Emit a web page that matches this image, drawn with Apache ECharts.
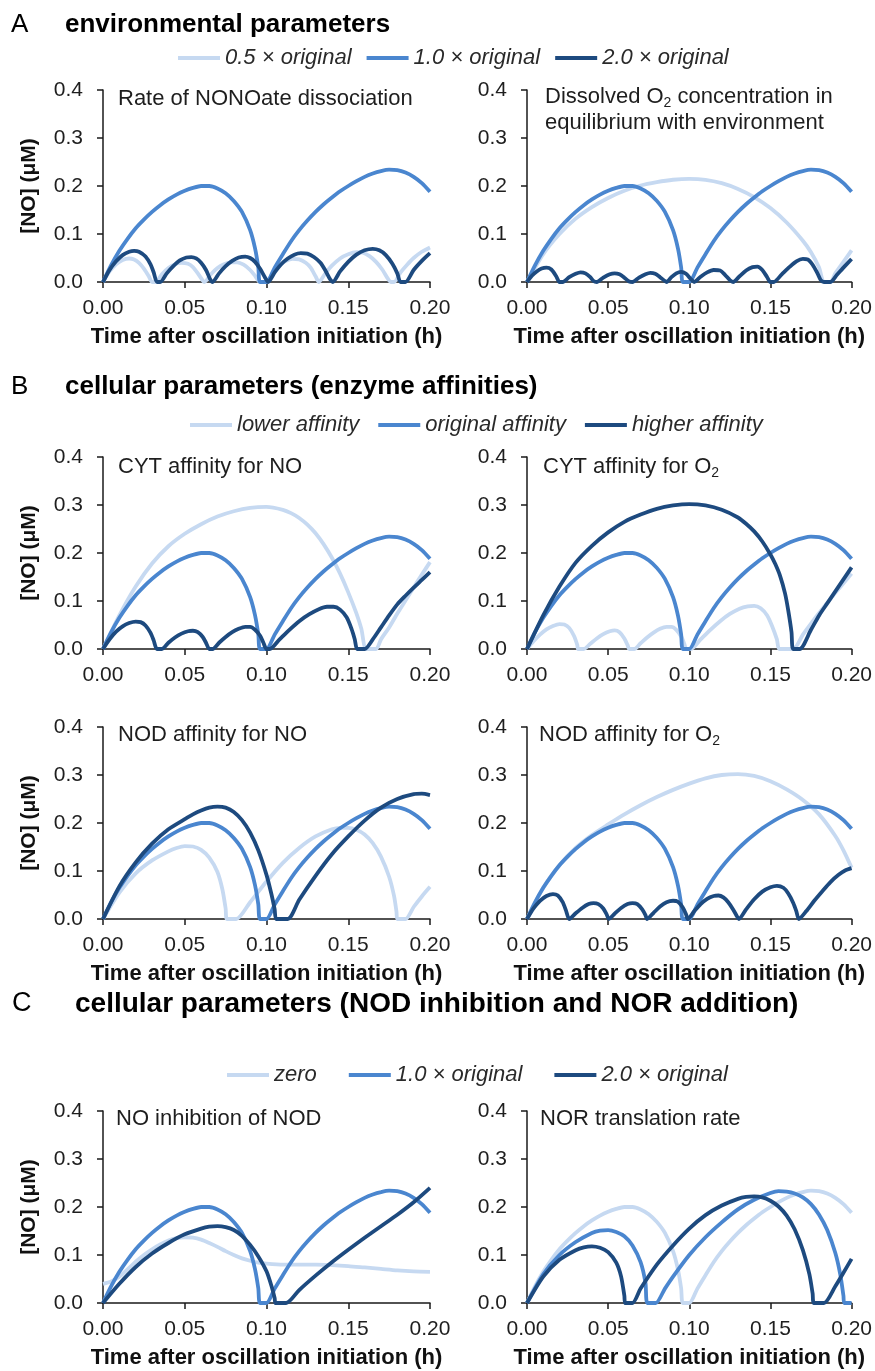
<!DOCTYPE html>
<html><head><meta charset="utf-8">
<script src="https://cdn.jsdelivr.net/npm/echarts@6/dist/echarts.min.js"></script>
<style>html,body{margin:0;padding:0;background:#fff}#c{width:875px;height:1371px}</style>
</head><body><div id="c"></div>
<script>
// ---------- tick values ----------
const xTicks = [0, 0.05, 0.10, 0.15, 0.20];
const yTicks = [0, 0.1, 0.2, 0.3, 0.4];

// ---------- legend labels ----------
const legendA = ['0.5 × original', '1.0 × original', '2.0 × original'];
const legendB = ['lower affinity', 'original affinity', 'higher affinity'];
const legendC = ['zero', '1.0 × original', '2.0 × original'];

// ---------- panel titles ----------
const panelTitles = [
  'Rate of NONOate dissociation',
  'Dissolved O|2| concentration in\nequilibrium with environment',
  'CYT affinity for NO',
  'CYT affinity for O|2|',
  'NOD affinity for NO',
  'NOD affinity for O|2|',
  'NO inhibition of NOD',
  'NOR translation rate'
];

// ---------- data: [time (h), NO (uM)] ----------
// original model (same in most panels)
const original = [[0,0],[0.005,0.035],[0.01,0.065],[0.015,0.09],[0.02,0.112],[0.025,0.13],[0.03,0.146],[0.035,0.16],[0.04,0.172],[0.045,0.182],[0.05,0.19],[0.055,0.196],[0.06,0.2],[0.065,0.2],[0.07,0.195],[0.075,0.185],[0.08,0.169],[0.085,0.146],[0.09,0.108],[0.093,0.07],[0.095,0.03],[0.096,0],[0.1,0],[0.105,0.03],[0.11,0.058],[0.115,0.085],[0.12,0.108],[0.125,0.128],[0.13,0.146],[0.135,0.162],[0.14,0.176],[0.145,0.189],[0.15,0.2],[0.155,0.21],[0.16,0.219],[0.165,0.226],[0.17,0.231],[0.175,0.234],[0.18,0.233],[0.185,0.228],[0.19,0.219],[0.195,0.206],[0.2,0.188]];

// A: NONOate dissociation
const nonoateLow = [[0,0],[0.004,0.022],[0.008,0.037],[0.012,0.046],[0.016,0.049],[0.019,0.047],[0.022,0.04],[0.025,0.028],[0.028,0.012],[0.03,0],[0.032,0],[0.036,0.016],[0.04,0.029],[0.044,0.037],[0.048,0.04],[0.052,0.038],[0.055,0.031],[0.058,0.018],[0.061,0.003],[0.062,0],[0.066,0.016],[0.07,0.029],[0.074,0.037],[0.078,0.041],[0.082,0.041],[0.086,0.036],[0.09,0.025],[0.093,0.013],[0.096,0],[0.1,0],[0.104,0.02],[0.108,0.035],[0.112,0.044],[0.116,0.048],[0.12,0.047],[0.124,0.04],[0.127,0.03],[0.13,0.012],[0.132,0],[0.136,0.018],[0.14,0.034],[0.145,0.049],[0.15,0.058],[0.155,0.062],[0.159,0.061],[0.163,0.054],[0.167,0.042],[0.171,0.025],[0.174,0.008],[0.176,0],[0.178,0],[0.182,0.02],[0.186,0.036],[0.19,0.05],[0.195,0.063],[0.2,0.072]];
const nonoateHigh = [[0,0],[0.004,0.025],[0.008,0.043],[0.012,0.056],[0.016,0.063],[0.019,0.065],[0.022,0.063],[0.026,0.053],[0.029,0.037],[0.031,0.02],[0.033,0],[0.035,0],[0.039,0.018],[0.043,0.033],[0.047,0.045],[0.051,0.051],[0.054,0.052],[0.057,0.049],[0.06,0.04],[0.063,0.025],[0.0655,0.006],[0.067,0],[0.071,0.018],[0.075,0.033],[0.079,0.044],[0.083,0.051],[0.087,0.053],[0.09,0.05],[0.093,0.042],[0.096,0.028],[0.099,0.01],[0.101,0],[0.105,0.02],[0.109,0.037],[0.113,0.049],[0.117,0.057],[0.121,0.06],[0.125,0.059],[0.129,0.052],[0.133,0.04],[0.136,0.024],[0.139,0.005],[0.1405,0],[0.145,0.022],[0.15,0.042],[0.155,0.057],[0.16,0.066],[0.165,0.069],[0.169,0.066],[0.173,0.056],[0.177,0.038],[0.18,0.018],[0.182,0],[0.185,0],[0.19,0.025],[0.195,0.044],[0.2,0.06]];

// A: dissolved O2
const oxygenLow = [[0,0],[0.01,0.058],[0.02,0.1],[0.03,0.132],[0.04,0.156],[0.05,0.175],[0.06,0.19],[0.07,0.201],[0.08,0.208],[0.09,0.213],[0.1,0.215],[0.11,0.213],[0.12,0.206],[0.13,0.194],[0.14,0.177],[0.15,0.154],[0.16,0.124],[0.17,0.086],[0.175,0.062],[0.18,0.03],[0.183,0],[0.187,0],[0.19,0.018],[0.195,0.042],[0.2,0.066]];
const oxygenHigh = [[0,0],[0.003,0.013],[0.006,0.022],[0.009,0.028],[0.012,0.03],[0.015,0.026],[0.018,0.012],[0.02,0],[0.022,0],[0.026,0.01],[0.03,0.017],[0.033,0.02],[0.036,0.018],[0.039,0.01],[0.041,0.002],[0.043,0],[0.047,0.009],[0.051,0.016],[0.054,0.018],[0.057,0.016],[0.06,0.009],[0.063,0.001],[0.065,0],[0.069,0.009],[0.073,0.016],[0.076,0.019],[0.079,0.017],[0.082,0.01],[0.085,0.002],[0.086,0],[0.089,0.01],[0.092,0.018],[0.095,0.021],[0.098,0.017],[0.101,0.006],[0.103,0],[0.107,0.011],[0.111,0.02],[0.115,0.025],[0.119,0.024],[0.122,0.015],[0.125,0.004],[0.127,0],[0.131,0.012],[0.135,0.024],[0.139,0.031],[0.142,0.032],[0.145,0.025],[0.148,0.01],[0.15,0],[0.152,0],[0.157,0.016],[0.162,0.032],[0.166,0.043],[0.17,0.048],[0.173,0.047],[0.176,0.036],[0.179,0.018],[0.181,0.004],[0.183,0],[0.187,0],[0.191,0.015],[0.195,0.03],[0.2,0.048]];

// B: CYT affinity for NO
const cytNoLower = [[0,0],[0.01,0.07],[0.02,0.13],[0.03,0.178],[0.04,0.214],[0.05,0.24],[0.06,0.26],[0.07,0.276],[0.08,0.287],[0.09,0.294],[0.1,0.296],[0.11,0.29],[0.115,0.283],[0.12,0.273],[0.125,0.259],[0.13,0.241],[0.135,0.218],[0.14,0.19],[0.145,0.157],[0.15,0.118],[0.155,0.074],[0.158,0.042],[0.161,0],[0.167,0],[0.17,0.02],[0.175,0.045],[0.18,0.074],[0.185,0.101],[0.19,0.128],[0.195,0.155],[0.2,0.181]];
const cytNoHigher = [[0,0],[0.004,0.02],[0.008,0.036],[0.012,0.047],[0.016,0.054],[0.02,0.057],[0.023,0.056],[0.026,0.049],[0.029,0.034],[0.031,0.018],[0.033,0],[0.036,0],[0.04,0.013],[0.044,0.024],[0.048,0.032],[0.052,0.037],[0.055,0.038],[0.058,0.035],[0.061,0.025],[0.063,0.013],[0.065,0],[0.067,0],[0.071,0.013],[0.075,0.025],[0.079,0.035],[0.083,0.042],[0.087,0.046],[0.09,0.046],[0.093,0.04],[0.096,0.028],[0.098,0.014],[0.1,0],[0.102,0],[0.108,0.02],[0.114,0.04],[0.12,0.058],[0.126,0.072],[0.132,0.083],[0.137,0.088],[0.141,0.088],[0.145,0.082],[0.149,0.066],[0.152,0.042],[0.154,0.02],[0.1555,0],[0.16,0],[0.165,0.02],[0.17,0.045],[0.175,0.07],[0.18,0.093],[0.185,0.111],[0.19,0.128],[0.195,0.144],[0.2,0.16]];

// B: CYT affinity for O2
const cytO2Lower = [[0,0],[0.004,0.016],[0.008,0.03],[0.012,0.041],[0.016,0.048],[0.02,0.052],[0.023,0.051],[0.026,0.044],[0.029,0.027],[0.031,0.008],[0.0315,0],[0.035,0],[0.039,0.011],[0.043,0.022],[0.047,0.031],[0.051,0.037],[0.054,0.039],[0.057,0.035],[0.06,0.022],[0.062,0.008],[0.063,0],[0.066,0],[0.07,0.012],[0.074,0.024],[0.078,0.034],[0.082,0.042],[0.086,0.046],[0.089,0.046],[0.092,0.04],[0.095,0.026],[0.097,0.01],[0.098,0],[0.101,0],[0.107,0.02],[0.113,0.04],[0.119,0.058],[0.125,0.073],[0.131,0.084],[0.136,0.089],[0.14,0.09],[0.144,0.085],[0.148,0.07],[0.151,0.048],[0.154,0.02],[0.1555,0],[0.164,0],[0.17,0.03],[0.175,0.053],[0.18,0.075],[0.185,0.096],[0.19,0.117],[0.195,0.137],[0.2,0.157]];
const cytO2Higher = [[0,0],[0.01,0.07],[0.02,0.13],[0.03,0.18],[0.04,0.215],[0.05,0.243],[0.06,0.265],[0.07,0.28],[0.08,0.292],[0.09,0.299],[0.1,0.302],[0.11,0.299],[0.12,0.29],[0.13,0.274],[0.135,0.261],[0.14,0.245],[0.145,0.224],[0.15,0.197],[0.153,0.177],[0.156,0.152],[0.159,0.116],[0.161,0.08],[0.163,0.035],[0.164,0],[0.168,0],[0.175,0.04],[0.18,0.07],[0.185,0.095],[0.19,0.12],[0.195,0.145],[0.2,0.17]];

// B: NOD affinity for NO
const nodNoLower = [[0,0],[0.01,0.055],[0.02,0.095],[0.03,0.122],[0.04,0.141],[0.045,0.148],[0.05,0.152],[0.055,0.151],[0.06,0.144],[0.065,0.128],[0.07,0.098],[0.073,0.062],[0.075,0.022],[0.0758,0],[0.0815,0],[0.09,0.035],[0.1,0.078],[0.11,0.117],[0.12,0.148],[0.13,0.172],[0.14,0.187],[0.145,0.19],[0.15,0.19],[0.155,0.186],[0.16,0.176],[0.165,0.158],[0.17,0.13],[0.175,0.088],[0.178,0.048],[0.1795,0.015],[0.18,0],[0.185,0],[0.19,0.025],[0.195,0.047],[0.2,0.067]];
const nodNoHigher = [[0,0],[0.01,0.068],[0.02,0.118],[0.03,0.157],[0.04,0.187],[0.05,0.208],[0.055,0.218],[0.06,0.226],[0.065,0.232],[0.07,0.234],[0.075,0.232],[0.08,0.223],[0.085,0.206],[0.09,0.18],[0.095,0.143],[0.1,0.092],[0.103,0.052],[0.105,0.02],[0.106,0],[0.113,0],[0.12,0.04],[0.13,0.09],[0.14,0.135],[0.15,0.172],[0.16,0.205],[0.17,0.232],[0.18,0.25],[0.19,0.26],[0.195,0.261],[0.2,0.258]];

// B: NOD affinity for O2
const nodO2Lower = [[0,0],[0.01,0.065],[0.02,0.112],[0.03,0.148],[0.04,0.175],[0.05,0.197],[0.06,0.218],[0.07,0.237],[0.08,0.254],[0.09,0.269],[0.1,0.282],[0.11,0.293],[0.12,0.3],[0.13,0.302],[0.14,0.298],[0.15,0.287],[0.16,0.27],[0.17,0.248],[0.18,0.218],[0.19,0.173],[0.195,0.143],[0.2,0.107]];
const nodO2Higher = [[0,0],[0.004,0.022],[0.008,0.038],[0.012,0.048],[0.016,0.052],[0.019,0.049],[0.022,0.035],[0.024,0.018],[0.026,0],[0.03,0.012],[0.034,0.023],[0.038,0.031],[0.041,0.033],[0.044,0.031],[0.047,0.022],[0.049,0.01],[0.0505,0],[0.054,0.011],[0.058,0.023],[0.062,0.031],[0.065,0.033],[0.068,0.031],[0.071,0.02],[0.073,0.008],[0.074,0],[0.078,0.013],[0.082,0.026],[0.086,0.035],[0.09,0.038],[0.093,0.036],[0.096,0.024],[0.098,0.01],[0.099,0],[0.103,0.016],[0.107,0.031],[0.111,0.042],[0.115,0.048],[0.118,0.049],[0.121,0.045],[0.124,0.035],[0.127,0.02],[0.1295,0.005],[0.1305,0],[0.135,0.02],[0.14,0.041],[0.145,0.057],[0.15,0.066],[0.154,0.069],[0.158,0.065],[0.161,0.053],[0.164,0.034],[0.166,0.016],[0.1675,0],[0.172,0.016],[0.177,0.038],[0.182,0.058],[0.187,0.077],[0.192,0.092],[0.196,0.101],[0.2,0.106]];

// C: NO inhibition of NOD
const inhibZero = [[0,0.04],[0.005,0.045],[0.01,0.055],[0.015,0.07],[0.02,0.086],[0.025,0.1],[0.03,0.112],[0.035,0.122],[0.04,0.13],[0.045,0.135],[0.05,0.137],[0.055,0.136],[0.06,0.132],[0.065,0.125],[0.07,0.117],[0.075,0.108],[0.08,0.1],[0.085,0.093],[0.09,0.088],[0.095,0.084],[0.1,0.082],[0.11,0.08],[0.12,0.08],[0.13,0.08],[0.14,0.079],[0.15,0.077],[0.16,0.074],[0.17,0.071],[0.18,0.068],[0.19,0.066],[0.2,0.065]];
const inhibDouble = [[0,0],[0.01,0.04],[0.02,0.075],[0.03,0.103],[0.04,0.125],[0.05,0.143],[0.06,0.155],[0.065,0.159],[0.07,0.16],[0.075,0.158],[0.08,0.152],[0.085,0.14],[0.09,0.121],[0.095,0.097],[0.1,0.066],[0.103,0.036],[0.105,0.01],[0.1055,0],[0.112,0],[0.12,0.027],[0.13,0.057],[0.14,0.085],[0.15,0.111],[0.16,0.136],[0.17,0.16],[0.18,0.184],[0.19,0.21],[0.2,0.24]];

// C: NOR translation rate
const norSingle = [[0,0],[0.01,0.06],[0.02,0.1],[0.03,0.127],[0.04,0.146],[0.045,0.151],[0.05,0.152],[0.055,0.148],[0.06,0.139],[0.065,0.12],[0.07,0.085],[0.073,0.042],[0.0742,0],[0.0793,0],[0.085,0.03],[0.09,0.055],[0.1,0.1],[0.11,0.137],[0.12,0.168],[0.13,0.195],[0.14,0.215],[0.15,0.229],[0.155,0.233],[0.16,0.232],[0.165,0.228],[0.17,0.22],[0.175,0.206],[0.18,0.184],[0.185,0.152],[0.19,0.104],[0.193,0.06],[0.195,0.015],[0.1955,0],[0.2,0]];
const norDouble = [[0,0],[0.01,0.055],[0.02,0.09],[0.03,0.11],[0.035,0.116],[0.04,0.118],[0.045,0.115],[0.05,0.106],[0.055,0.084],[0.058,0.055],[0.06,0.015],[0.0605,0],[0.065,0],[0.07,0.03],[0.08,0.08],[0.09,0.12],[0.1,0.155],[0.11,0.183],[0.12,0.203],[0.13,0.217],[0.135,0.221],[0.14,0.222],[0.145,0.22],[0.15,0.213],[0.155,0.201],[0.16,0.182],[0.165,0.153],[0.17,0.11],[0.174,0.06],[0.176,0.02],[0.1768,0],[0.183,0],[0.19,0.035],[0.195,0.063],[0.2,0.092]];

// ---------- panel → series ----------
const panels = [
  {names: legendA, data: [nonoateLow, original, nonoateHigh]},
  {names: legendA, data: [oxygenLow, original, oxygenHigh]},
  {names: legendB, data: [cytNoLower, original, cytNoHigher]},
  {names: legendB, data: [cytO2Lower, original, cytO2Higher]},
  {names: legendB, data: [nodNoLower, original, nodNoHigher]},
  {names: legendB, data: [nodO2Lower, original, nodO2Higher]},
  {names: legendC, data: [inhibZero, original, inhibDouble]},
  {names: legendC, data: [original, norSingle, norDouble]}
];

const FONT = '"Liberation Sans", Arial, sans-serif';
const COLORS = ['#c6d9f1', '#4a86cf', '#1d4a7f'];
const TXT = '#1e1e1e';

const layout = [
  {l:103, t:90, w:327}, {l:527, t:90, w:326},
  {l:103, t:457, w:327}, {l:527, t:457, w:326},
  {l:103, t:727, w:327}, {l:527, t:727, w:326},
  {l:103, t:1111, w:327}, {l:527, t:1111, w:326}
];
const showXName = [true, true, false, false, true, true, true, true];

const axisLineStyle = {color:'#1a1a1a', width:1.5};

const grid = layout.map(g => ({left:g.l, top:g.t, width:g.w, height:192}));
const xAxis = layout.map((g, i) => ({
  type:'value', gridIndex:i, min:xTicks[0], max:xTicks[xTicks.length-1], interval:xTicks[1]-xTicks[0],
  axisLine:{show:true, onZero:false, lineStyle:axisLineStyle},
  axisTick:{show:true, length:6, lineStyle:axisLineStyle},
  splitLine:{show:false},
  axisLabel:{formatter:v => v.toFixed(2), fontSize:21, color:TXT, margin:16, fontFamily:FONT},
  name: showXName[i] ? 'Time after oscillation initiation (h)' : '',
  nameLocation:'middle', nameGap:44,
  nameTextStyle:{fontSize:22, fontWeight:'bold', color:'#111', fontFamily:FONT}
}));
const yAxis = layout.map((g, i) => ({
  type:'value', gridIndex:i, min:yTicks[0], max:yTicks[yTicks.length-1], interval:yTicks[1]-yTicks[0],
  axisLine:{show:true, onZero:false, lineStyle:axisLineStyle},
  axisTick:{show:true, length:6, lineStyle:axisLineStyle},
  splitLine:{show:false},
  axisLabel:{formatter:v => v.toFixed(1), fontSize:21, color:TXT, margin:20, fontFamily:FONT},
  name: (i % 2 === 0) ? '[NO] (μM)' : '',
  nameLocation:'middle', nameGap:63, nameRotate:90,
  nameTextStyle:{fontSize:21, fontWeight:'bold', color:'#111', fontFamily:FONT}
}));

const series = [];
panels.forEach((p, i) => {
  p.data.forEach((d, k) => {
    series.push({
      type:'line', name:p.names[k], xAxisIndex:i, yAxisIndex:i, data:d,
      showSymbol:false, symbol:'none', smooth:0.25, silent:true,
      lineStyle:{width:3.8, color:COLORS[k]}, itemStyle:{color:COLORS[k]},
      emphasis:{disabled:true}, z:2 + k
    });
  });
});

const legendBase = {
  orient:'horizontal', padding:0, icon:'rect', itemWidth:42, itemHeight:4, selectedMode:false,
  textStyle:{fontSize:22, fontStyle:'italic', color:'#2a2a2a', fontFamily:FONT}
};
const legend = [
  Object.assign({}, legendBase, {data:legendA, left:178, top:47, itemGap:15}),
  Object.assign({}, legendBase, {data:legendB, left:190, top:414, itemGap:19}),
  Object.assign({}, legendBase, {data:legendC, left:227, top:1064, itemGap:32})
];

const subPos = [
  {l:118, t:86}, {l:545, t:84},
  {l:118, t:454}, {l:543, t:454},
  {l:118, t:722}, {l:539, t:722},
  {l:116, t:1106}, {l:540, t:1106}
];
function richText(s) {
  return s.split('\n').map(line => line.split('|').map((part, j) =>
    part === '' ? '' : (j % 2 === 1 ? '{s|' + part + '}' : '{a|' + part + '}')).join('')).join('\n');
}
const headings = [
  {text:'A', left:11, top:10, size:26},
  {text:'environmental parameters', left:65, top:10, bold:true, size:26},
  {text:'B', left:11, top:372, size:26},
  {text:'cellular parameters (enzyme affinities)', left:65, top:372, bold:true, size:26},
  {text:'C', left:12, top:989, size:27},
  {text:'cellular parameters (NOD inhibition and NOR addition)', left:75, top:989, bold:true, size:28}
];
const title = headings.map(t => ({
  text:t.text, left:t.left, top:t.top, padding:0,
  textStyle:{fontSize:t.size, lineHeight:30, fontWeight:t.bold ? 'bold' : 'normal', color:'#000', fontFamily:FONT}
})).concat(panelTitles.map((s, i) => ({
  text:richText(s), left:subPos[i].l, top:subPos[i].t, padding:0,
  textStyle:{fontWeight:'normal', rich:{
    a:{fontSize:22, lineHeight:26, fontWeight:'normal', color:TXT, fontFamily:FONT},
    s:{fontSize:14, lineHeight:26, fontWeight:'normal', color:TXT, fontFamily:FONT, verticalAlign:'bottom'}
  }}
})));

const chart = echarts.init(document.getElementById('c'), null, {renderer:'canvas'});
chart.setOption({
  animation:false, backgroundColor:'#fff',
  title, legend, grid, xAxis, yAxis, series
});
</script></body></html>
